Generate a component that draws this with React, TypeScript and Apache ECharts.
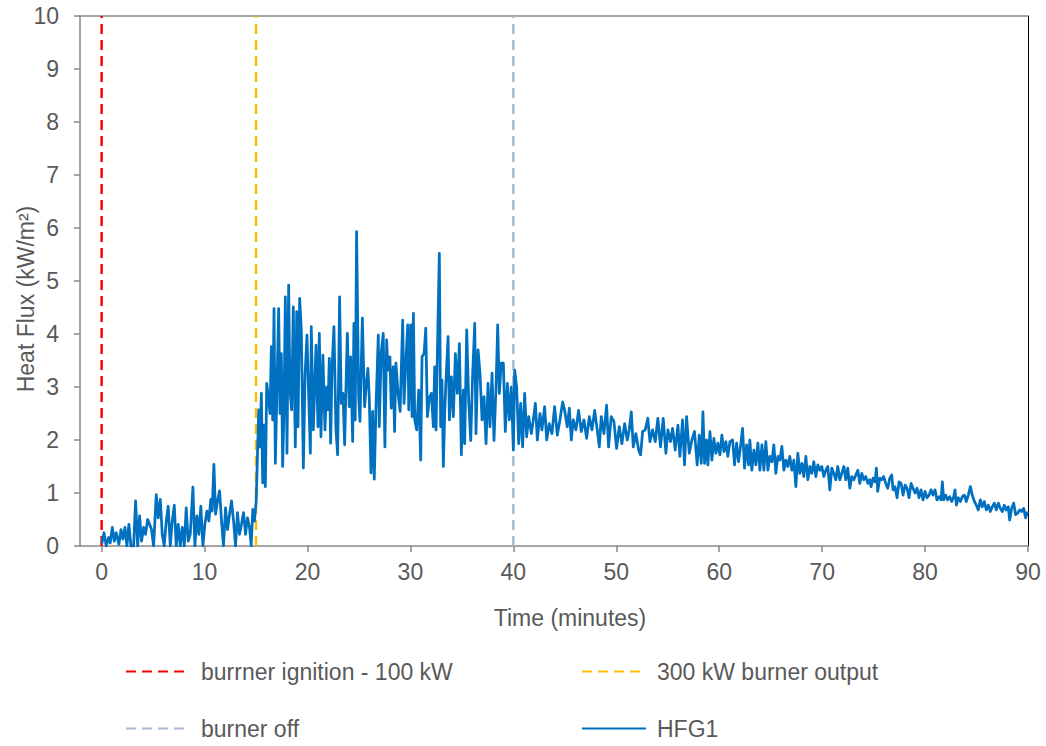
import React, { useEffect, useRef } from "react";
import * as echarts from "echarts";

const xTickValues = [0, 10, 20, 30, 40, 50, 60, 70, 80, 90];
const yTickValues = [0, 1, 2, 3, 4, 5, 6, 7, 8, 9, 10];

const eventNames = ["burrner ignition - 100 kW", "300 kW burner output", "burner off"];
const eventTimes = [0, 15, 40];
const eventColors = ["#FF0000", "#FFC000", "#A9B7D6"];

// HFG1 heat flux [time (min), kW/m2]
const hfgBurner100 = [
  [0.03, 0.05], [0.23, 0.25], [0.45, 0], [0.68, 0.16], [0.84, 0.06], [1.04, 0.35], [1.23, 0.09], [1.42, 0.25],
  [1.68, 0.03], [1.88, 0.31], [2.07, 0.13], [2.27, 0.35], [2.46, 0], [2.65, 0.41], [2.85, 0], [3.11, 0],
  [3.3, 0.85], [3.5, 0], [3.69, 0.57], [3.88, 0.09], [4.08, 0.35], [4.27, 0.22], [4.47, 0.5], [4.66, 0.41],
  [4.85, 0.31], [5.05, 0], [5.31, 0.97], [5.5, 0.53], [5.7, 0.88], [5.89, 0.22], [6.08, 0], [6.28, 0.47],
  [6.47, 0.75], [6.67, 0], [6.86, 0.47], [7.06, 0.77], [7.25, 0], [7.44, 0.41], [7.64, 0], [7.83, 0.35],
  [8.03, 0], [8.22, 0.72], [8.41, 0.09], [8.61, 0.22], [8.87, 1.11], [9.06, 0], [9.26, 0.57], [9.45, 0.22],
  [9.64, 0.75], [9.84, 0], [10.03, 0.41], [10.23, 0.66], [10.42, 0.47], [10.61, 0.88], [10.74, 0.66], [10.91, 1.54],
  [11.07, 0.6], [11.26, 0.85], [11.46, 1.04], [11.65, 0.47], [11.84, 0], [12.04, 0.72], [12.23, 0.31], [12.43, 0.6],
  [12.62, 0.85], [12.82, 0.47], [13.01, 0], [13.2, 0.63], [13.4, 0.22], [13.59, 0.41], [13.79, 0.63], [13.98, 0.22],
  [14.17, 0.53], [14.37, 0.35], [14.53, 0], [14.69, 0.69], [14.85, 0.47], [15.02, 0.85],
];

const hfgBurner300 = [
  [15.26, 2.57], [15.39, 1.87], [15.52, 2.88], [15.65, 1.19], [15.78, 2.28], [15.91, 1.12], [16.04, 3.07], [16.23, 2.75],
  [16.36, 2.5], [16.49, 3.76], [16.62, 2.38], [16.75, 4.48], [16.88, 1.56], [17.01, 2.75], [17.2, 4.48], [17.33, 2.5],
  [17.46, 3.63], [17.59, 1.5], [17.72, 2.63], [17.85, 4.7], [18.01, 1.75], [18.17, 4.92], [18.3, 2.94], [18.46, 2.57],
  [18.62, 4.51], [18.82, 1.87], [18.95, 4.42], [19.08, 2.25], [19.24, 4.67], [19.4, 4.08], [19.6, 1.47], [19.76, 3.19],
  [19.95, 3.98], [20.11, 2.88], [20.28, 1.75], [20.37, 4.14], [20.57, 2.19], [20.83, 3.79], [21.02, 2.25], [21.15, 4.01],
  [21.31, 2.06], [21.5, 3.6], [21.7, 2.19], [21.86, 3.0], [21.99, 2.57], [22.12, 3.54], [22.25, 1.94], [22.38, 3.32],
  [22.57, 4.14], [22.77, 2.19], [22.93, 1.72], [23.12, 4.7], [23.28, 2.69], [23.45, 2.88], [23.61, 1.91], [23.74, 3.0],
  [23.87, 4.01], [24.06, 2.63], [24.19, 3.57], [24.39, 1.97], [24.51, 4.2], [24.64, 2.38], [24.77, 5.93], [24.97, 2.82],
  [25.1, 2.35], [25.33, 4.3], [25.55, 2.63], [25.68, 2.97], [25.87, 3.35], [26.0, 2.82], [26.17, 1.38], [26.33, 2.54],
  [26.49, 1.26], [26.65, 2.57], [26.88, 3.98], [26.97, 2.25], [27.17, 3.66], [27.36, 4.01], [27.52, 1.87], [27.69, 3.89],
  [27.82, 3.32], [28.01, 3.57], [28.14, 2.6], [28.33, 3.38], [28.46, 2.16], [28.59, 3.45], [28.8, 2.88], [29.0, 2.54],
  [29.25, 4.26], [29.38, 2.69], [29.58, 3.57], [29.74, 4.17], [29.84, 2.57], [30.03, 4.17], [30.16, 2.44], [30.29, 4.39],
  [30.42, 2.38], [30.61, 2.19], [30.81, 2.94], [31.0, 1.62], [31.13, 3.57], [31.33, 3.63], [31.49, 4.11], [31.65, 2.44],
  [31.84, 2.79], [32.04, 2.88], [32.23, 2.25], [32.36, 3.38], [32.49, 2.19], [32.62, 3.63], [32.81, 5.52], [32.94, 2.25],
  [33.07, 3.13], [33.2, 1.5], [33.33, 2.5], [33.46, 3.13], [33.66, 3.95], [33.79, 2.38], [33.98, 3.19], [34.17, 2.44],
  [34.37, 3.63], [34.56, 2.88], [34.76, 3.82], [34.95, 1.72], [35.14, 2.94], [35.27, 1.93], [35.47, 4.08], [35.66, 2.75],
  [35.86, 1.99], [36.05, 3.26], [36.25, 4.2], [36.37, 2.12], [36.57, 3.7], [36.76, 3.26], [36.96, 2.38], [37.15, 2.82],
  [37.35, 1.93], [37.54, 3.07], [37.73, 2.25], [37.93, 3.26], [38.12, 1.99], [38.32, 3.0], [38.48, 4.17], [38.64, 2.88],
  [38.83, 3.45], [39.03, 3.45], [39.22, 2.16], [39.42, 3.07], [39.61, 2.38], [39.8, 3.0],
];

const hfgBurnerOff = [
  [40.0, 1.81], [40.13, 3.32], [40.32, 3.0], [40.52, 1.93], [40.71, 2.69], [40.9, 1.87], [41.1, 2.88], [41.29, 2.06],
  [41.49, 2.44], [41.75, 2.12], [41.94, 2.38], [42.14, 2.69], [42.33, 2.0], [42.59, 2.5], [42.78, 2.19], [43.04, 2.63],
  [43.24, 2.0], [43.49, 2.31], [43.75, 2.12], [44.01, 2.63], [44.27, 2.09], [44.53, 2.38], [44.79, 2.72], [44.98, 2.56],
  [45.24, 2.25], [45.44, 2.6], [45.63, 2.0], [45.82, 2.38], [46.08, 2.19], [46.34, 2.56], [46.6, 2.16], [46.86, 2.38],
  [47.12, 2.03], [47.38, 2.44], [47.64, 2.19], [47.9, 2.56], [48.15, 2.19], [48.35, 1.87], [48.54, 2.44], [48.8, 2.12],
  [49.06, 2.66], [49.25, 1.87], [49.51, 2.44], [49.77, 2.35], [50.03, 1.84], [50.29, 2.25], [50.55, 1.93], [50.81, 2.31],
  [51.07, 2.0], [51.26, 2.19], [51.46, 2.53], [51.65, 1.87], [51.91, 2.12], [52.17, 1.81], [52.36, 1.72], [52.56, 2.16],
  [52.81, 2.19], [53.07, 2.41], [53.27, 1.97], [53.53, 2.19], [53.79, 1.97], [54.04, 2.41], [54.3, 1.87], [54.56, 2.41],
  [54.82, 1.75], [55.02, 2.19], [55.27, 1.97], [55.47, 2.22], [55.73, 1.81], [55.99, 2.28], [56.18, 1.69], [56.44, 2.38],
  [56.63, 1.53], [56.83, 2.44], [57.09, 1.75], [57.35, 2.0], [57.6, 2.16], [57.86, 1.53], [58.06, 2.09], [58.26, 1.56],
  [58.42, 2.53], [58.58, 1.56], [58.77, 2.0], [58.9, 1.53], [59.1, 2.16], [59.29, 1.62], [59.48, 2.03], [59.68, 1.75],
  [59.87, 1.94], [60.07, 1.72], [60.26, 2.09], [60.46, 1.78], [60.65, 1.97], [60.84, 1.69], [61.04, 1.97], [61.3, 2.0],
  [61.49, 1.53], [61.69, 1.94], [61.88, 1.59], [62.07, 1.88], [62.27, 2.22], [62.46, 1.47], [62.66, 1.91], [62.85, 1.53],
  [62.98, 2.0], [63.17, 1.43], [63.37, 1.81], [63.56, 1.53], [63.76, 1.94], [63.95, 1.43], [64.15, 1.91], [64.34, 1.43],
  [64.53, 1.97], [64.73, 1.43], [64.92, 1.69], [65.12, 1.59], [65.31, 1.91], [65.5, 1.37], [65.7, 1.69], [65.89, 1.62],
  [66.09, 1.88], [66.28, 1.43], [66.48, 1.62], [66.67, 1.5], [66.86, 1.69], [67.06, 1.43], [67.25, 1.62], [67.45, 1.12],
  [67.64, 1.75], [67.83, 1.37], [68.03, 1.56], [68.22, 1.31], [68.42, 1.69], [68.61, 1.25], [68.81, 1.5], [69.0, 1.37],
  [69.19, 1.59], [69.39, 1.31], [69.58, 1.53], [69.78, 1.43], [69.97, 1.5], [70.16, 1.31], [70.36, 1.43], [70.55, 1.5],
  [70.75, 1.06], [70.94, 1.47], [71.14, 1.37], [71.33, 1.25], [71.52, 1.5], [71.72, 1.25], [71.91, 1.37], [72.11, 1.5],
  [72.3, 1.25], [72.49, 1.47], [72.69, 1.09], [72.88, 1.31], [73.08, 1.25], [73.27, 1.34], [73.47, 1.43], [73.66, 1.18],
  [73.85, 1.37], [74.05, 1.25], [74.24, 1.31], [74.44, 1.18], [74.63, 1.25], [74.75, 1.12], [74.95, 1.28], [75.14, 1.21],
  [75.27, 1.47], [75.4, 1.03], [75.6, 1.28], [75.79, 1.25], [75.98, 1.31], [76.18, 1.18], [76.37, 1.09], [76.57, 1.28],
  [76.76, 1.34], [76.89, 1.06], [77.08, 1.12], [77.28, 0.91], [77.47, 1.21], [77.67, 1.18], [77.86, 0.96], [78.06, 1.15],
  [78.25, 1.09], [78.44, 0.91], [78.64, 1.18], [78.83, 1.09], [79.03, 1.0], [79.22, 1.09], [79.41, 0.91], [79.61, 1.06],
  [79.8, 0.87], [80.0, 1.03], [80.19, 0.91], [80.39, 0.96], [80.58, 1.06], [80.77, 0.96], [80.97, 1.06], [81.16, 0.87],
  [81.36, 0.93], [81.55, 0.87], [81.68, 1.21], [81.81, 0.87], [82.0, 0.96], [82.2, 0.87], [82.39, 0.93], [82.59, 0.84],
  [82.78, 0.93], [82.91, 1.06], [83.04, 0.77], [83.23, 0.91], [83.43, 0.84], [83.62, 0.93], [83.82, 0.96], [84.01, 0.84],
  [84.2, 0.96], [84.4, 1.12], [84.59, 0.96], [84.79, 0.84], [84.98, 0.77], [85.17, 0.68], [85.37, 0.87], [85.56, 0.74],
  [85.76, 0.84], [85.95, 0.68], [86.15, 0.77], [86.34, 0.65], [86.53, 0.74], [86.73, 0.81], [86.92, 0.68], [87.12, 0.81],
  [87.31, 0.71], [87.5, 0.65], [87.7, 0.77], [87.89, 0.68], [88.09, 0.74], [88.22, 0.49], [88.41, 0.71], [88.61, 0.81],
  [88.8, 0.59], [88.99, 0.62], [89.19, 0.68], [89.38, 0.65], [89.58, 0.71], [89.77, 0.53], [89.96, 0.65],
];

const FONT = "'Liberation Sans', Arial, sans-serif";
const TEXT = "#595959";
const AXIS = "#898989";
const FS = 23;

export default function App() {
  const ref = useRef<HTMLDivElement>(null);

  useEffect(() => {
    document.body.style.margin = "0";
    if (!ref.current) return;
    const chart = echarts.init(ref.current, null, { renderer: "svg" });

    const eventSeries = eventNames.map((name, i) => ({
      name,
      type: "line",
      data: [
        [eventTimes[i], 0],
        [eventTimes[i], 10],
      ],
      symbol: "none",
      showSymbol: false,
      silent: true,
      lineStyle: { color: eventColors[i], width: 2.5, type: [10, 6] },
      itemStyle: { color: eventColors[i] },
      z: 2,
    }));

    const legendBase = {
      padding: 0,
      itemWidth: 64,
      itemHeight: 14,
      itemStyle: { opacity: 0, borderWidth: 0 },
      textStyle: { color: TEXT, fontSize: FS, fontFamily: FONT, padding: [0, 0, 0, 6] },
      selectedMode: false,
    };

    chart.setOption({
      animation: false,
      backgroundColor: "#ffffff",
      textStyle: { fontFamily: FONT },
      grid: { left: 80, right: 18, top: 16, bottom: 200, containLabel: false, outerBoundsMode: "none" },
      legend: [
        { ...legendBase, data: [eventNames[0]], left: 125, top: 660 },
        { ...legendBase, data: [eventNames[1]], left: 581, top: 660 },
        { ...legendBase, data: [eventNames[2]], left: 125, top: 717 },
        { ...legendBase, data: ["HFG1"], left: 581, top: 717 },
      ],
      xAxis: [
        {
          type: "value",
          min: -2.1,
          max: 90,
          name: "Time (minutes)",
          nameLocation: "middle",
          nameGap: 60,
          nameMoveOverlap: false,
          nameTextStyle: { color: TEXT, fontSize: FS, fontFamily: FONT, padding: [0, 0, 0, 32] },
          axisLine: { show: true, onZero: false, lineStyle: { color: AXIS, width: 1.5 } },
          axisTick: { show: true, customValues: xTickValues, length: 6, lineStyle: { color: AXIS, width: 1.5 } },
          axisLabel: { customValues: xTickValues, color: TEXT, fontSize: FS, fontFamily: FONT, margin: 14 },
          splitLine: { show: false },
        },
        {
          type: "value",
          position: "top",
          min: -2.1,
          max: 90,
          axisLine: { show: true, onZero: false, lineStyle: { color: AXIS, width: 1.5 } },
          axisTick: { show: false },
          axisLabel: { show: false },
          splitLine: { show: false },
        },
      ],
      yAxis: [
        {
          type: "value",
          min: 0,
          max: 10,
          interval: 1,
          name: "Heat Flux (kW/m²)",
          nameLocation: "middle",
          nameGap: 43,
          nameRotate: 90,
          nameMoveOverlap: false,
          nameTextStyle: { color: TEXT, fontSize: FS, fontFamily: FONT, padding: [0, 36, 0, 0] },
          axisLine: { show: true, onZero: false, lineStyle: { color: AXIS, width: 1.5 } },
          axisTick: { show: true, inside: false, length: 6, lineStyle: { color: AXIS, width: 1.5 } },
          axisLabel: { color: TEXT, fontSize: FS, fontFamily: FONT, margin: 21, customValues: yTickValues },
          splitLine: { show: false },
        },
        {
          type: "value",
          position: "right",
          min: 0,
          max: 10,
          interval: 1,
          axisLine: { show: true, onZero: false, lineStyle: { color: "#000000", width: 1 } },
          axisTick: { show: false },
          axisLabel: { show: false },
          splitLine: { show: false },
        },
      ],
      series: [
        ...eventSeries,
        {
          name: "HFG1",
          type: "line",
          data: [...hfgBurner100, ...hfgBurner300, ...hfgBurnerOff],
          symbol: "none",
          showSymbol: false,
          silent: true,
          lineStyle: { color: "#0070C0", width: 2.75, join: "round" },
          itemStyle: { color: "#0070C0" },
          z: 3,
        },
      ],
    });

    return () => chart.dispose();
  }, []);

  return <div ref={ref} style={{ width: 1046, height: 746 }} />;
}
